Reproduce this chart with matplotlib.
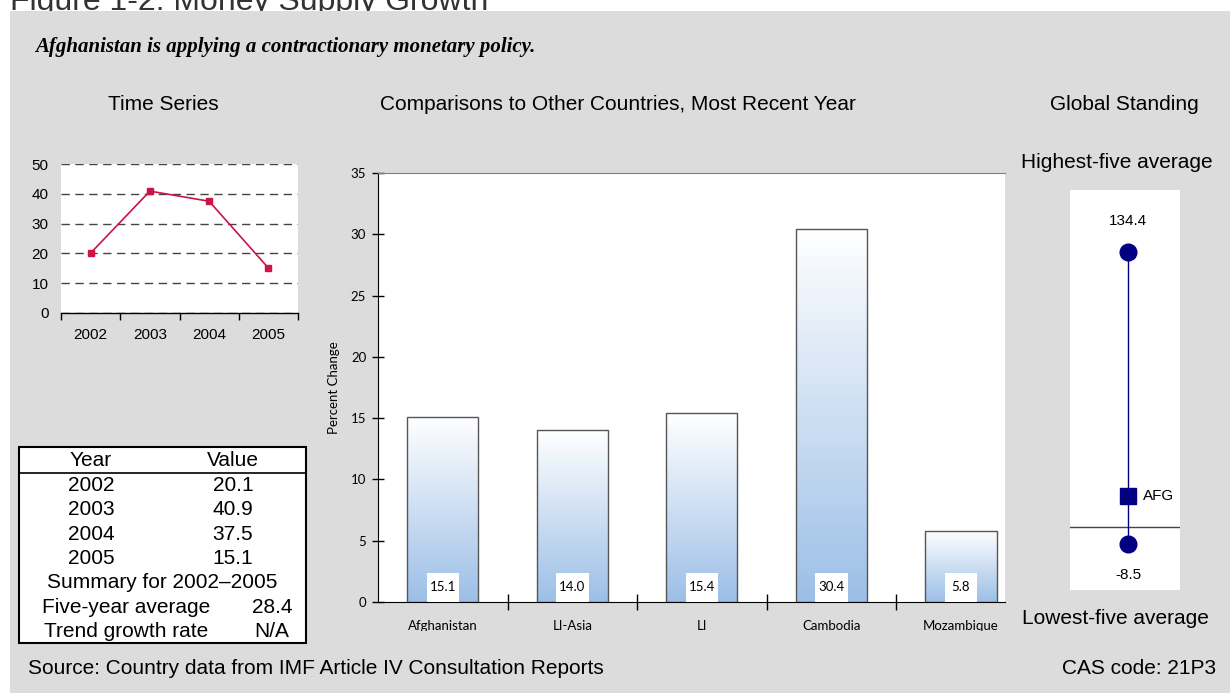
import numpy as np
import matplotlib
matplotlib.use("Agg")
import matplotlib.pyplot as plt
from matplotlib.patches import Rectangle
from matplotlib.lines import Line2D
from matplotlib.colors import LinearSegmentedColormap

# ---------------- data ----------------
years = [2002, 2003, 2004, 2005]
ts_values = [20.1, 40.9, 37.5, 15.1]
countries = ["Afghanistan", "LI-Asia", "LI", "Cambodia", "Mozambique"]
growth = [15.1, 14.0, 15.4, 30.4, 5.8]
highest_five = 134.4
lowest_five = -8.5
afg_value = 15.1
five_year_avg = "28.4"
trend_growth = "N/A"

BG = "#dcdcdc"
W, H = 1230, 693
fig = plt.figure(figsize=(W / 100, H / 100), dpi=100)
fig.patch.set_facecolor("white")

def fx(px):
    return px / W

def fy(py):
    return 1 - py / H

SANS = ["Liberation Sans", "DejaVu Sans"]
GILL = ["Lato", "DejaVu Sans"]

# page title (cut off by grey panel)
fig.text(fx(10), fy(10), "Figure 1-2: Money Supply Growth", fontsize=23,
         family=SANS, color="#333333", ha="left", va="baseline", zorder=-2)
fig.add_artist(Rectangle((fx(10), 0), 1, fy(11), transform=fig.transFigure,
                         fc=BG, ec="none", zorder=-1))

fig.text(fx(35), fy(47), "Afghanistan is applying a contractionary monetary policy.",
         family=["Liberation Serif", "DejaVu Serif"], style="italic", weight="bold",
         fontsize=15, ha="left", va="center")

for txt, x in [("Time Series", 163), ("Comparisons to Other Countries, Most Recent Year", 618),
               ("Global Standing", 1124)]:
    fig.text(fx(x), fy(104), txt, family=SANS, fontsize=15, ha="center", va="center")

# ---------------- time series ----------------
ax1 = fig.add_axes([fx(61), fy(313), (298 - 61) / W, (313 - 164) / H])
ax1.set_facecolor("white")
xs = np.arange(len(years))
ax1.plot(xs, ts_values, color="#cc1446", lw=1.2, marker="s", ms=4, zorder=3)
ax1.set_xlim(-0.5, len(years) - 0.5)
ax1.set_ylim(0, 50)
ax1.set_yticks(range(0, 51, 10))
ax1.yaxis.grid(True, ls=(0, (6, 4)), color="#444444", lw=1)
ax1.set_axisbelow(True)
ax1.set_xticks(xs)
ax1.set_xticklabels([str(y) for y in years])
ax1.set_xticks(np.arange(-0.5, len(years), 1.0), minor=True)
ax1.tick_params(axis="x", which="major", length=0, pad=11, labelsize=11)
ax1.tick_params(axis="x", which="minor", length=5, width=1, direction="out", color="black")
ax1.tick_params(axis="y", length=0, pad=9, labelsize=11)
for lab in ax1.get_xticklabels() + ax1.get_yticklabels():
    lab.set_family(SANS)
for s in ["left", "top", "right"]:
    ax1.spines[s].set_visible(False)
ax1.spines["bottom"].set_color("black")
ax1.spines["bottom"].set_linewidth(1)

# ---------------- table ----------------
fig.add_artist(Rectangle((fx(19), fy(643)), (306 - 19) / W, (643 - 447) / H,
                         transform=fig.transFigure, fc="white", ec="black", lw=1.5, zorder=1))
fig.add_artist(Line2D([fx(19), fx(306)], [fy(473), fy(473)], transform=fig.transFigure,
                      color="black", lw=1.2, zorder=2))
row_y = [461 + k * 24.4 for k in range(8)]
tkw = dict(family=SANS, fontsize=15, ha="center", va="center", zorder=3)
fig.text(fx(91), fy(row_y[0]), "Year", **tkw)
fig.text(fx(233), fy(row_y[0]), "Value", **tkw)
for k, (yr, v) in enumerate(zip(years, ts_values)):
    fig.text(fx(91), fy(row_y[k + 1]), str(yr), **tkw)
    fig.text(fx(233), fy(row_y[k + 1]), f"{v:.1f}", **tkw)
fig.text(fx(162), fy(row_y[5]), f"Summary for {years[0]}\u2013{years[-1]}", **tkw)
fig.text(fx(126), fy(row_y[6]), "Five-year average", **tkw)
fig.text(fx(272), fy(row_y[6]), five_year_avg, **tkw)
fig.text(fx(126), fy(row_y[7]), "Trend growth rate", **tkw)
fig.text(fx(272), fy(row_y[7]), trend_growth, **tkw)

# ---------------- bar chart ----------------
ax2 = fig.add_axes([fx(378), fy(602), (1005 - 378) / W, (602 - 173) / H])
ax2.set_facecolor("white")
cmap = LinearSegmentedColormap.from_list("g", ["#ffffff", "#9cbfe7"])
grad = np.linspace(0, 1, 256).reshape(-1, 1)[::-1]
bw = 0.55
cx = np.arange(len(countries))
for i, v in zip(cx, growth):
    ax2.imshow(grad, extent=(i - bw / 2, i + bw / 2, 0, v), origin="lower",
               aspect="auto", cmap=cmap, zorder=1)
ax2.bar(cx, growth, width=bw, fill=False, edgecolor="#555555", lw=1, zorder=2)
lbl_w, lbl_h = 0.25, 2.4
for i, v in zip(cx, growth):
    ax2.add_patch(Rectangle((i - lbl_w / 2, 0), lbl_w, lbl_h, fc="white", ec="none", zorder=3))
    ax2.text(i, lbl_h / 2, f"{v:.1f}", ha="center", va="center", fontsize=9.5, family=GILL,
             zorder=4)
ax2.set_xlim(-0.5, 4.34)
ax2.set_ylim(0, 35)
ax2.set_yticks(range(0, 36, 5))
ax2.set_xticks(cx)
ax2.set_xticklabels(countries)
ax2.set_xticks(np.arange(0.5, len(countries) - 1, 1.0), minor=True)
ax2.tick_params(axis="x", which="major", length=0, pad=13, labelsize=9.5)
ax2.tick_params(axis="x", which="minor", length=12, width=1, direction="inout")
ax2.tick_params(axis="y", length=9, width=1, direction="inout", labelsize=9.5, pad=4)
for lab in ax2.get_xticklabels() + ax2.get_yticklabels():
    lab.set_family(GILL)
ax2.set_ylabel("Percent Change", family=GILL, fontsize=9.5)
ax2.yaxis.set_label_coords(-0.06, 0.5)
ax2.spines["right"].set_visible(False)
ax2.spines["top"].set_color("#808080")
ax2.spines["left"].set_color("black")
ax2.spines["bottom"].set_color("black")
# clip the category labels like the original
fig.add_artist(Rectangle((fx(370), fy(645)), (1010 - 370) / W, (645 - 631) / H,
                         transform=fig.transFigure, fc=BG, ec="none", zorder=5))

# ---------------- global standing ----------------
ax3 = fig.add_axes([fx(1070), fy(590), 110 / W, 400 / H])
ax3.set_facecolor("white")
ax3.set_xlim(-0.527, 0.473)
ax3.set_ylim(-31.0, 164.7)
ax3.axhline(0, color="#444444", lw=1, zorder=1)
ax3.plot([0, 0], [lowest_five, highest_five], color="#000080", lw=1, zorder=2)
ax3.plot([0, 0], [lowest_five, highest_five], "o", color="#000080", ms=12, zorder=3)
ax3.plot([0], [afg_value], "s", color="#000080", ms=12, zorder=3)
ax3.annotate(f"{highest_five:.1f}", (0, highest_five), xytext=(0, 22), textcoords="offset points",
             ha="center", va="center", fontsize=11, family=SANS)
ax3.annotate(f"{lowest_five:.1f}", (0, lowest_five), xytext=(0, -22), textcoords="offset points",
             ha="center", va="center", fontsize=11, family=SANS)
ax3.annotate("AFG", (0, afg_value), xytext=(11, 0), textcoords="offset points",
             ha="left", va="center", fontsize=11, family=SANS)
ax3.set_xticks([])
ax3.set_yticks([])
for s in ax3.spines.values():
    s.set_visible(False)

fig.text(fx(1117), fy(162), "Highest-five average", family=SANS, fontsize=15, ha="center", va="center")
fig.text(fx(1115), fy(618), "Lowest-five average", family=SANS, fontsize=15, ha="center", va="center")

fig.text(fx(28), fy(668), "Source: Country data from IMF Article IV Consultation Reports",
         family=SANS, fontsize=15, ha="left", va="center")
fig.text(fx(1216), fy(668), "CAS code: 21P3", family=SANS, fontsize=15, ha="right", va="center")

fig.savefig("out.png", dpi=100, facecolor=fig.get_facecolor())
